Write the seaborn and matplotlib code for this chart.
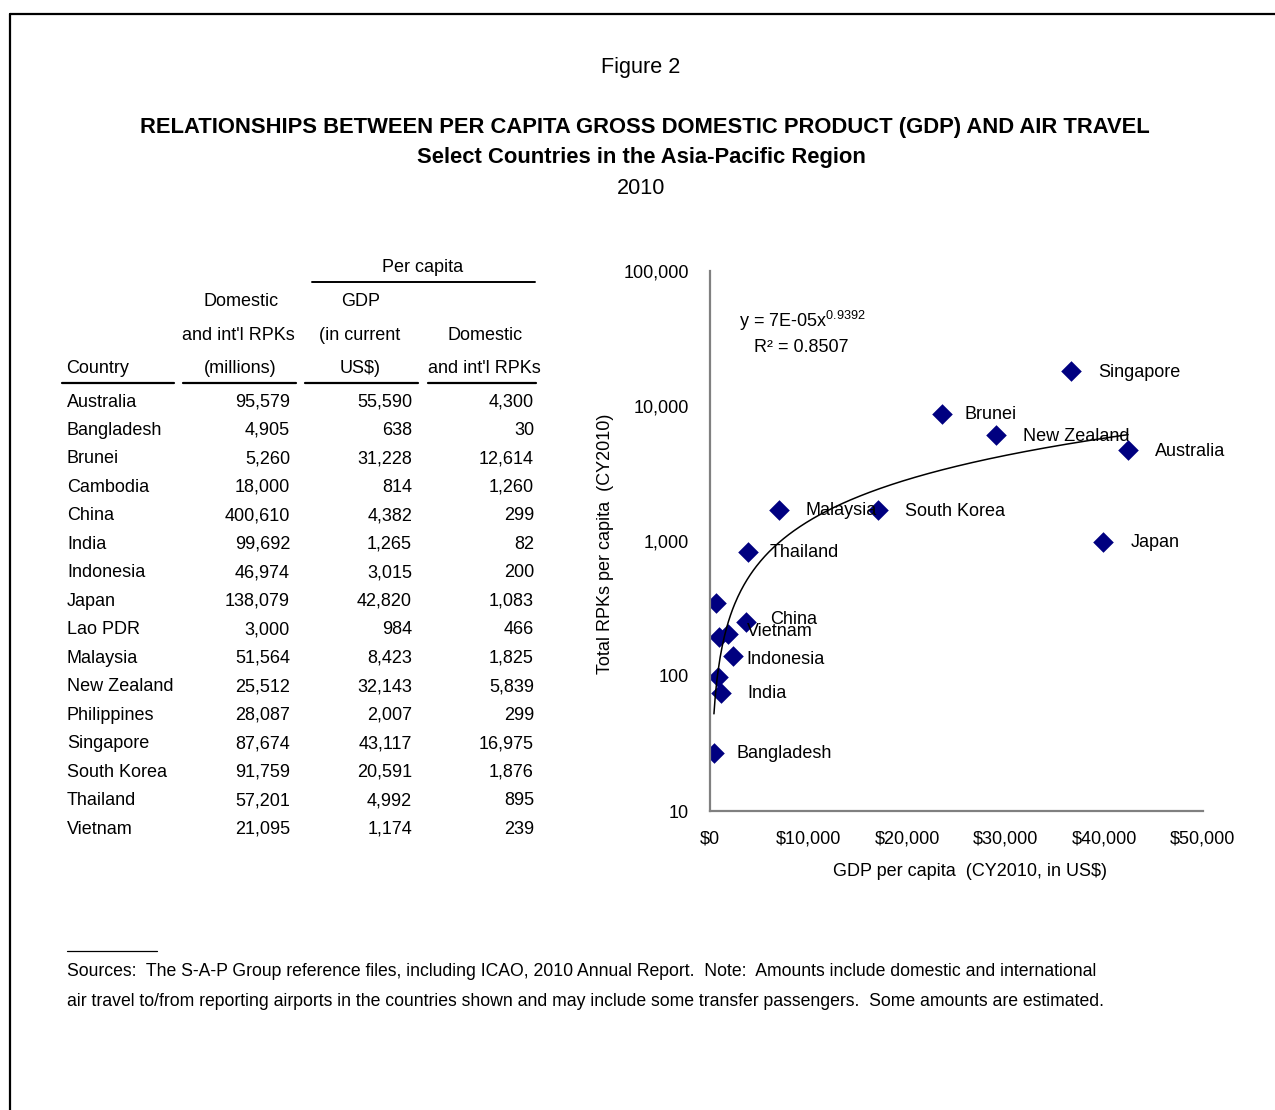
import numpy as np
import pandas as pd
import matplotlib
matplotlib.use("Agg")
import matplotlib.pyplot as plt
from matplotlib.lines import Line2D
from matplotlib.ticker import FixedLocator, FixedFormatter, NullLocator
import seaborn as sns

# ---- Table data (2010) ----
countries = ["Australia", "Bangladesh", "Brunei", "Cambodia", "China", "India",
             "Indonesia", "Japan", "Lao PDR", "Malaysia", "New Zealand",
             "Philippines", "Singapore", "South Korea", "Thailand", "Vietnam"]
rpk_millions = [95579, 4905, 5260, 18000, 400610, 99692, 46974, 138079, 3000,
                51564, 25512, 28087, 87674, 91759, 57201, 21095]
gdp_per_capita = [55590, 638, 31228, 814, 4382, 1265, 3015, 42820, 984, 8423,
                  32143, 2007, 43117, 20591, 4992, 1174]
rpk_per_capita = [4300, 30, 12614, 1260, 299, 82, 200, 1083, 466, 1825, 5839,
                  299, 16975, 1876, 895, 239]

# ---- Scatter series ----
scatter_countries = ["Singapore", "Brunei", "New Zealand", "Australia", "Japan",
                     "South Korea", "Malaysia", "Thailand", "China", "Vietnam",
                     "Philippines", "Lao PDR", "Indonesia", "Cambodia", "India",
                     "Bangladesh"]
scatter_gdp = [36600, 23500, 29000, 42400, 39900, 17000, 7000, 3850, 3650, 1830,
               910, 600, 2330, 810, 1120, 400]
scatter_rpk = [18150, 8730, 6100, 4720, 985, 1700, 1700, 830, 251, 205, 194,
               348, 141, 98, 75, 27]
point_labels = ["Singapore", "Brunei", "New Zealand", "Australia", "Japan",
                "South Korea", "Malaysia", "Thailand", "China", "Vietnam",
                "", "", "Indonesia", "", "India", "Bangladesh"]

x_ticks = [0, 10000, 20000, 30000, 40000, 50000]
x_tick_labels = ["\\$0", "\\$10,000", "\\$20,000", "\\$30,000", "\\$40,000", "\\$50,000"]
y_ticks = [10, 100, 1000, 10000, 100000]
y_tick_labels = ["10", "100", "1,000", "10,000", "100,000"]

# label offsets from each marker, in pixels (dx right, dy down)
label_offsets = {
    "Singapore": (27, 1), "Brunei": (23, 1), "New Zealand": (27, 2),
    "Australia": (27, 1), "Japan": (27, 1), "South Korea": (27, 2),
    "Malaysia": (26, 1), "Thailand": (22, 1), "China": (24, -3),
    "Vietnam": (19, -2), "Indonesia": (13, 4), "India": (26, 1),
    "Bangladesh": (23, 1),
}

sns.set_theme(style="white")
plt.rcParams["font.family"] = ["Liberation Sans", "DejaVu Sans"]
plt.rcParams["mathtext.default"] = "regular"
for key in ["text.color", "axes.labelcolor", "xtick.color", "ytick.color"]:
    plt.rcParams[key] = "black"

W, H = 1275, 1110
fig = plt.figure(figsize=(W / 100, H / 100), dpi=100)
fig.patch.set_facecolor("white")


def fx(x):
    return x / W


def fy(y):
    return 1 - y / H


def ftext(x, y, s, size=13, ha="center", va="center", weight="normal", **kw):
    fig.text(fx(x), fy(y), s, fontsize=size, ha=ha, va=va, weight=weight,
             color="black", **kw)


def fline(x0, x1, y0, y1, lw=1.2, color="black"):
    fig.add_artist(Line2D([fx(x0), fx(x1)], [fy(y0), fy(y1)], lw=lw, color=color))


# frame
fline(10, W, 14, 14, lw=1.6)
fline(10, 10, 14, H, lw=1.6)

# titles
ftext(641, 67, "Figure 2", size=15.6)
ftext(645, 128, "RELATIONSHIPS BETWEEN PER CAPITA GROSS DOMESTIC PRODUCT (GDP) AND AIR TRAVEL",
      size=15.8, weight="bold")
ftext(641, 158, "Select Countries in the Asia-Pacific Region", size=15.8, weight="bold")
ftext(641, 189, "2010", size=15.6)

# ---- table ----
ftext(423, 267, "Per capita")
fline(312, 535, 282, 282, lw=1.4)
ftext(241, 302, "Domestic")
ftext(361, 302, "GDP")
ftext(238, 336, "and int'l RPKs")
ftext(360, 336, "(in current")
ftext(485, 336, "Domestic")
ftext(66, 369, "Country", ha="left")
ftext(240, 369, "(millions)")
ftext(360, 369, "US\\$)")
ftext(484, 369, "and int'l RPKs")
for x0, x1 in [(62, 174), (183, 296), (305, 418), (428, 536)]:
    fline(x0, x1, 383, 383, lw=1.6)

row_step = (829 - 402) / 15
for i, name in enumerate(countries):
    y = 402 + i * row_step
    ftext(67, y, name, ha="left")
    ftext(290, y, f"{rpk_millions[i]:,}", ha="right")
    ftext(412, y, f"{gdp_per_capita[i]:,}", ha="right")
    ftext(534, y, f"{rpk_per_capita[i]:,}", ha="right")

# ---- scatter chart ----
ax = fig.add_axes([fx(710), fy(811), (1203 - 710) / W, (811 - 271) / H])
ax.set_facecolor("white")
df = pd.DataFrame({"country": scatter_countries, "gdp": scatter_gdp,
                   "rpk": scatter_rpk, "label": point_labels})

# power-law trend fitted on the scatter series
b, log_a = np.polyfit(np.log(df["gdp"]), np.log(df["rpk"]), 1)
trend_x = np.linspace(df["gdp"].min(), df["gdp"].max(), 400)
trend = pd.DataFrame({"gdp": trend_x, "rpk": np.exp(log_a) * trend_x ** b})
sns.lineplot(data=trend, x="gdp", y="rpk", ax=ax, color="black", lw=1.1,
             zorder=3)

sns.scatterplot(data=df, x="gdp", y="rpk", ax=ax, marker="D", s=110,
                color="#000080", edgecolor="#000080", linewidth=0, zorder=2)

for _, r in df.iterrows():
    if not r["label"]:
        continue
    dx, dy = label_offsets[r["label"]]
    ax.annotate(r["label"], (r["gdp"], r["rpk"]), xytext=(dx * 0.72, -dy * 0.72),
                textcoords="offset points", ha="left", va="center", fontsize=13,
                color="black", zorder=4)

ax.set_yscale("log")
ax.set_xlim(0, 50000)
ax.set_ylim(10, 100000)
ax.xaxis.set_major_locator(FixedLocator(x_ticks))
ax.xaxis.set_major_formatter(FixedFormatter(x_tick_labels))
ax.yaxis.set_major_locator(FixedLocator(y_ticks))
ax.yaxis.set_major_formatter(FixedFormatter(y_tick_labels))
ax.yaxis.set_minor_locator(NullLocator())
ax.tick_params(axis="both", length=0, labelsize=13, colors="black")
ax.tick_params(axis="x", pad=14)
ax.tick_params(axis="y", pad=15)
for side in ["top", "right"]:
    ax.spines[side].set_visible(False)
for side in ["left", "bottom"]:
    ax.spines[side].set_color("#808080")
    ax.spines[side].set_linewidth(1.6)
ax.grid(False)
ax.set_xlabel("GDP per capita  (CY2010, in US\\$)", fontsize=13, color="black")
ax.xaxis.set_label_coords((970 - 710) / 493, -(872 - 811) / 540)
ax.xaxis.label.set_va("center")
ax.set_ylabel("Total RPKs per capita  (CY2010)", fontsize=13, color="black")
ax.yaxis.set_label_coords(-(710 - 606) / 493, (811 - 544) / 540)
ax.yaxis.label.set_va("center")

ftext(739, 321, "y = 7E-05x$^{0.9392}$", ha="left", size=13)
ftext(754, 347, "R² = 0.8507", ha="left", size=13)

# ---- footnote ----
fline(67, 157, 951, 951, lw=0.9)
ftext(67, 972, "Sources:  The S-A-P Group reference files, including ICAO, 2010 Annual Report.  "
      "Note:  Amounts include domestic and international", ha="left", size=12.7)
ftext(67, 1001, "air travel to/from reporting airports in the countries shown and may include "
      "some transfer passengers.  Some amounts are estimated.", ha="left", size=12.7)

fig.savefig("out.png", dpi=100, facecolor="white")
